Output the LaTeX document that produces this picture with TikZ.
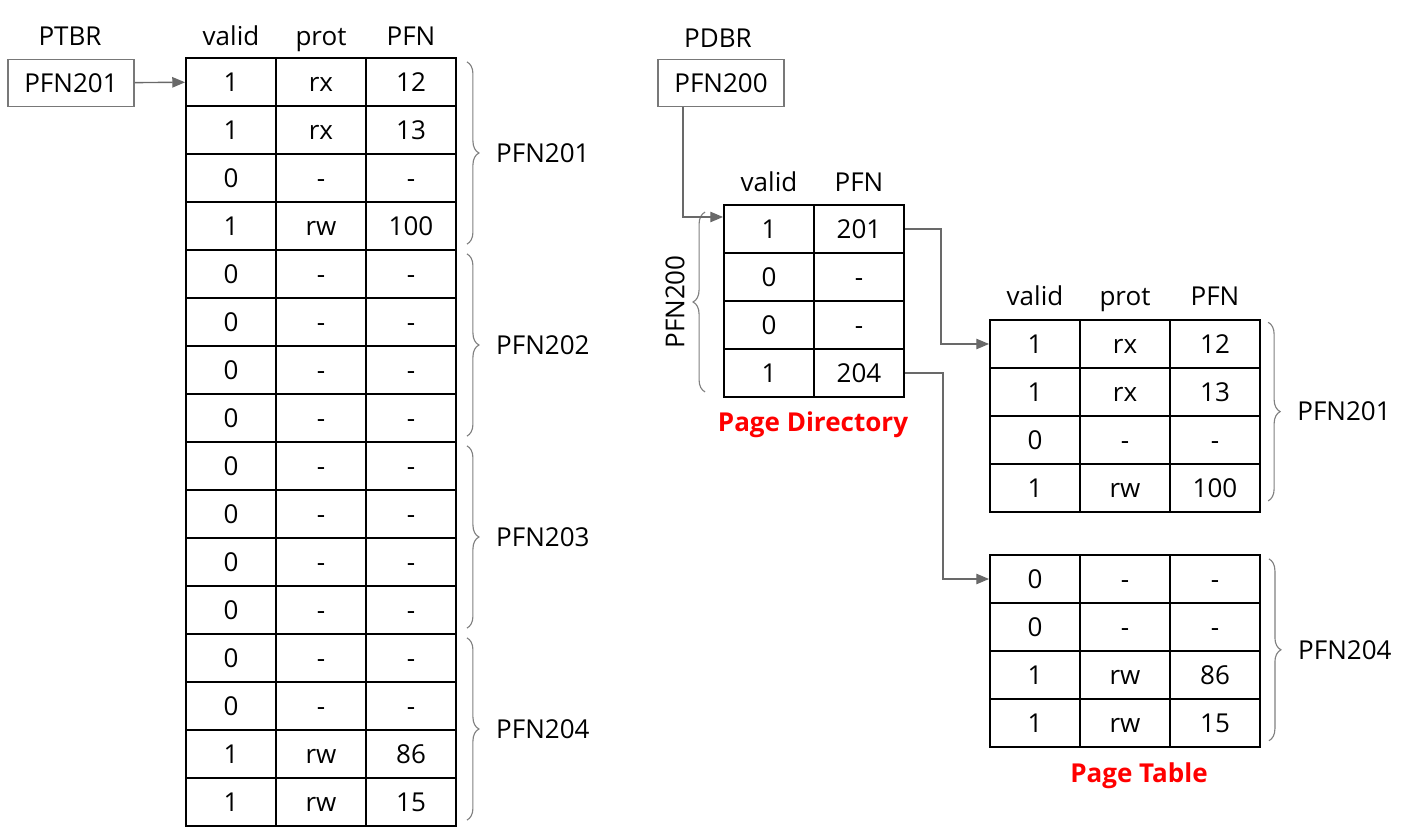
\documentclass[tikz,border=0pt]{standalone}
\usepackage{fontspec}
\setmainfont{Open Sans}
\usetikzlibrary{positioning, arrows.meta, decorations.pathreplacing}
\definecolor{linkgray}{RGB}{105,105,105}
\definecolor{boxgray}{RGB}{120,120,120}
\tikzset{
  cell/.style={
    draw, line width=1.3pt,
    minimum width=2.25cm,
    minimum height=1.2cm,
    inner sep=0pt
  },
  regbox/.style={
    draw=boxgray, line width=0.9pt,
    minimum width=3.15cm,
    minimum height=1.17cm
  },
  link/.style={-{Triangle[length=3.2mm, width=2.6mm]}, linkgray, line width=1pt},
  grpbrace/.style={decorate, decoration={brace, amplitude=0.3cm}, draw=gray, line width=0.8pt},
  grplabel/.style={midway, anchor=west, xshift=0.6cm}
}

\begin{document}
\begin{tikzpicture}[
  x=0.025cm, y=-0.025cm,
  every node/.style={font=\fontsize{18.5}{22}\selectfont, text height=13.3pt, text depth=0pt},
  title/.style={font=\fontsize{18.5}{22}\selectfont\bfseries, text=red},
]
\useasboundingbox (0,0) rectangle (1409,833);

% PTBR register
\node (ptbr-lbl) at (70,36) {PTBR};
\node[regbox] (ptbr) at (71,83) {PFN201};

% Linear page table
\foreach \t/\x/\c in {valid/231/1, prot/321/2, PFN/411/3}
  \node (lt-hd-\c) at (\x,36) {\t};
\foreach \v/\p/\f [count=\r] in {1/rx/12, 1/rx/13, 0/-/-, 1/rw/100,
    0/-/-, 0/-/-, 0/-/-, 0/-/-, 0/-/-, 0/-/-, 0/-/-, 0/-/-,
    0/-/-, 0/-/-, 1/rw/86, 1/rw/15} {
  \node[cell] (lt-\r-1) at (231, 34+48*\r) {\v};
  \node[cell] (lt-\r-2) at (321, 34+48*\r) {\p};
  \node[cell] (lt-\r-3) at (411, 34+48*\r) {\f};
}
\foreach \g/\lbl in {1/201, 2/202, 3/203, 4/204} {
  \pgfmathtruncatemacro\rowa{4*\g-3}
  \pgfmathtruncatemacro\rowb{4*\g}
  \draw[grpbrace] ([xshift=0.25cm, yshift=-0.12cm]lt-\rowa-3.north east)
    -- ([xshift=0.25cm, yshift=0.17cm]lt-\rowb-3.south east)
    node[grplabel] (lt-lbl-\g) {PFN\lbl};
}
\draw[link] (ptbr) -- (lt-1-1);

% PDBR register
\node (pdbr-lbl) at (718,38) {PDBR};
\node[regbox] (pdbr) at (721,83) {PFN200};

% Page directory
\foreach \t/\x/\c in {valid/769/1, PFN/859/2}
  \node (pd-hd-\c) at (\x,182) {\t};
\foreach \v/\f [count=\r] in {1/201, 0/-, 0/-, 1/204} {
  \node[cell] (pd-\r-1) at (769, 181+48*\r) {\v};
  \node[cell] (pd-\r-2) at (859, 181+48*\r) {\f};
}
\draw[grpbrace] ([xshift=-0.45cm, yshift=0.15cm]pd-4-1.south west)
  -- ([xshift=-0.45cm, yshift=-0.2cm]pd-1-1.north west);
\node[rotate=90] (pd-lbl) at ([xshift=-1.2cm]pd-2-1.south west) {PFN200};
\node[title] (pd-title) at (813,422) {Page Directory};
\draw[link] ([xshift=-0.95cm]pdbr.south) |- ([yshift=0.3cm]pd-1-1.west);

% Page tables
\foreach \t/\x/\c in {valid/1035/1, prot/1125/2, PFN/1215/3}
  \node (pt-hd-\c) at (\x,296) {\t};
\foreach \v/\p/\f [count=\r] in {1/rx/12, 1/rx/13, 0/-/-, 1/rw/100} {
  \node[cell] (pt1-\r-1) at (1035, 296+48*\r) {\v};
  \node[cell] (pt1-\r-2) at (1125, 296+48*\r) {\p};
  \node[cell] (pt1-\r-3) at (1215, 296+48*\r) {\f};
}
\foreach \v/\p/\f [count=\r] in {0/-/-, 0/-/-, 1/rw/86, 1/rw/15} {
  \node[cell] (pt2-\r-1) at (1035, 531+48*\r) {\v};
  \node[cell] (pt2-\r-2) at (1125, 531+48*\r) {\p};
  \node[cell] (pt2-\r-3) at (1215, 531+48*\r) {\f};
}
\draw[grpbrace] ([xshift=0.18cm, yshift=-0.08cm]pt1-1-3.north east)
  -- ([xshift=0.18cm, yshift=0.3cm]pt1-4-3.south east)
  node[grplabel] (pt1-lbl) {PFN201};
\draw[grpbrace] ([xshift=0.2cm, yshift=-0.12cm]pt2-1-3.north east)
  -- ([xshift=0.2cm, yshift=0.18cm]pt2-4-3.south east)
  node[grplabel] (pt2-lbl) {PFN204};
\node[title] (pt-title) at (1139,773) {Page Table};

% Directory entries to page tables
\draw[link] (pd-1-2.east) -- ++(36,0) |- (pt1-1-1.west);
\draw[link] (pd-4-2.east) -- ++(38,0) |- (pt2-1-1.west);

\end{tikzpicture}
\end{document}
